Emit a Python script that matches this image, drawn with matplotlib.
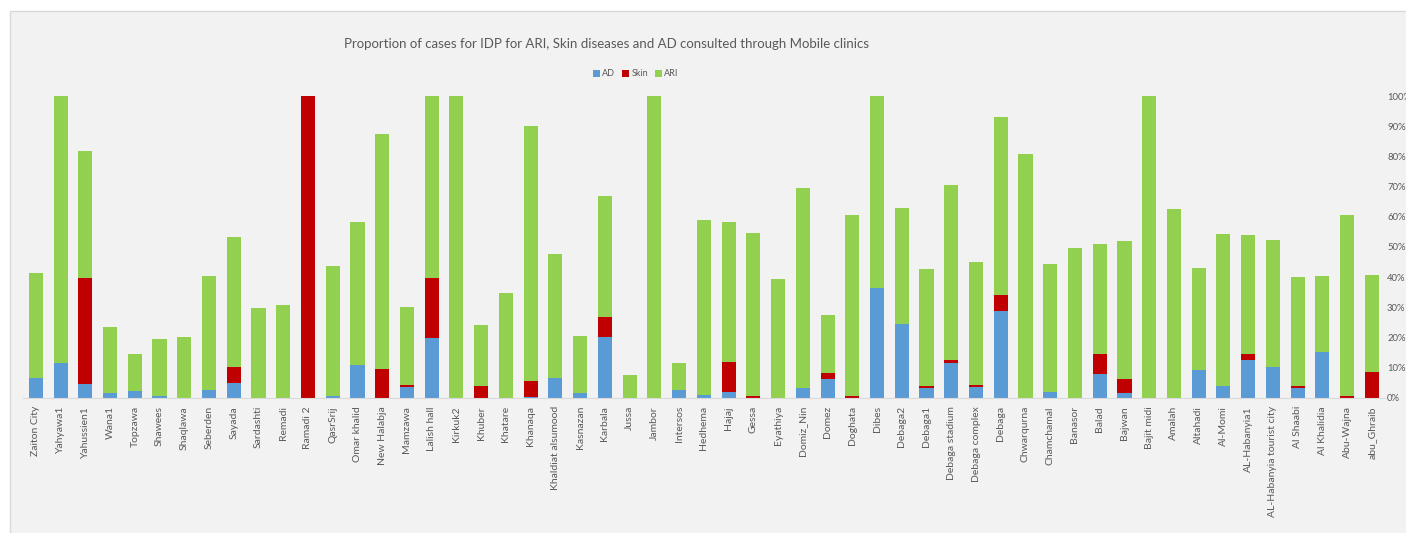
import numpy as np
import matplotlib
matplotlib.use("Agg")
import matplotlib.pyplot as plt
from matplotlib.patches import Rectangle

# data (proportion of cases)
sites = ["Zaiton City", "Yahyawa1", "Yahussien1", "Wana1", "Topzawa", "Shawees", "Shaqlawa",
         "Seberden", "Sayada", "Sardashti", "Remadi", "Ramadi 2", "QasrSrij", "Omar khalid",
         "New Halabja", "Mamzawa", "Lalish hall", "Kirkuk2", "Khuber", "Khatare", "Khanaqa",
         "Khaldiat alsumood", "Kasnazan", "Karbala", "Jussa", "Jambor", "Intersos", "Hedhema",
         "Hajaj", "Gessa", "Eyathiya", "Domiz_Nin", "Domez", "Doghata", "Dibes", "Debaga2",
         "Debaga1", "Debaga stadium", "Debaga complex", "Debaga", "Chwarqurna", "Chamchamal",
         "Banasor", "Balad", "Bajwan", "Bajit midi", "Amalah", "Altahadi", "Al-Momi",
         "AL-Habanyia1", "AL-Habanyia tourist city", "Al Shaabi", "Al Khalidia", "Abu-Wajna",
         "abu_Ghraib"]
ad = [6.4, 11.4, 4.6, 1.4, 2.2, 0.5, 0.0, 2.5, 5.0, 0.0, 0.0, 0.0, 0.5, 11.0,
      0.0, 3.6, 19.9, 0.0, 0.0, 0.0, 0.3, 6.4, 1.4, 20.1, 0.0, 0.0, 2.5, 0.8,
      1.8, 0.0, 0.0, 3.2, 6.1, 0.0, 36.5, 24.5, 3.2, 11.4, 3.6, 28.8, 0.0, 1.9,
      0.0, 7.8, 1.4, 0.0, 0.0, 9.3, 4.0, 12.4, 10.1, 3.2, 15.2, 0.0, 0.0]
skin = [0.0, 0.0, 35.1, 0.0, 0.0, 0.0, 0.0, 0.0, 5.3, 0.0, 0.0, 100.0, 0.0, 0.0,
        9.6, 0.7, 19.8, 0.0, 3.9, 0.0, 5.4, 0.0, 0.0, 6.5, 0.0, 0.0, 0.0, 0.0,
        9.9, 0.5, 0.0, 0.0, 2.1, 0.5, 0.0, 0.0, 0.8, 1.1, 0.5, 5.2, 0.0, 0.0,
        0.0, 6.7, 4.7, 0.0, 0.0, 0.0, 0.0, 2.1, 0.0, 0.8, 0.0, 0.5, 8.5]
ari = [35.0, 88.6, 42.1, 21.9, 12.3, 18.9, 20.2, 37.8, 42.8, 29.7, 30.7, 0.0, 43.0, 47.1,
       77.9, 25.7, 60.3, 100.0, 20.2, 34.7, 84.2, 41.1, 19.2, 40.4, 7.5, 100.0, 8.9, 58.0,
       46.4, 54.1, 39.3, 66.3, 19.1, 60.1, 63.5, 38.3, 38.5, 58.0, 40.9, 59.1, 80.8, 42.4,
       49.6, 36.5, 45.9, 100.0, 62.7, 33.6, 50.1, 39.3, 42.3, 36.0, 25.1, 60.1, 32.2]
yticks = [0, 10, 20, 30, 40, 50, 60, 70, 80, 90, 100]

C_AD, C_SKIN, C_ARI = "#5B9BD5", "#C00000", "#92D050"
GREY = "#595959"
FONT = ["Lato", "DejaVu Sans"]

fig = plt.figure(figsize=(14.06, 5.33), dpi=100)
# chart area panel (grey box with light border, cut at right/bottom like the source)
fig.patches.append(Rectangle((10 / 1406, -0.01), 1.0, 1 - 11 / 533 + 0.01, transform=fig.transFigure,
                             facecolor="#F2F2F2", edgecolor="#D9D9D9", lw=1, zorder=-10))
ax = fig.add_axes([22.7 / 1406, 1 - 397.7 / 533, (1385 - 22.7) / 1406, 301.7 / 533])
ax.set_facecolor("none")

x = np.arange(len(sites))
a = np.array(ad) / 100; s = np.array(skin) / 100; r = np.array(ari) / 100
w = 0.57
ax.bar(x, a, w, color=C_AD, label="AD", zorder=2)
ax.bar(x, s, w, bottom=a, color=C_SKIN, label="Skin", zorder=2)
ax.bar(x, r, w, bottom=a + s, color=C_ARI, label="ARI", zorder=2)

ax.set_xlim(-0.53, len(sites) - 0.47)
ax.set_ylim(0, 1)
ax.set_xticks(x)
ax.set_xticklabels(sites, rotation=90, fontsize=7.5, color=GREY, family=FONT)
ax.yaxis.tick_right()
ax.set_yticks([v / 100 for v in yticks])
ax.set_yticklabels([f"{v}%" for v in yticks], fontsize=6.8, color=GREY, family=FONT)
ax.tick_params(axis="both", length=0)
ax.tick_params(axis="y", pad=1.5)
ax.tick_params(axis="x", pad=6)
for sp in ["top", "left", "right"]:
    ax.spines[sp].set_visible(False)
ax.spines["bottom"].set_color("#D9D9D9")

fig.text(606 / 1406, 1 - 44 / 533, "Proportion of cases for IDP for ARI, Skin diseases and AD consulted through Mobile clinics",
         ha="center", va="center", fontsize=9.5, color=GREY, family=FONT)
leg = fig.legend(loc="center", bbox_to_anchor=(636 / 1406, 1 - 74 / 533), ncol=3, frameon=False,
                 handlelength=0.7, handleheight=0.7, handletextpad=0.3, columnspacing=0.8,
                 prop={"family": FONT, "size": 6.5})
for t in leg.get_texts():
    t.set_color(GREY)

fig.savefig("out.png", dpi=100)
